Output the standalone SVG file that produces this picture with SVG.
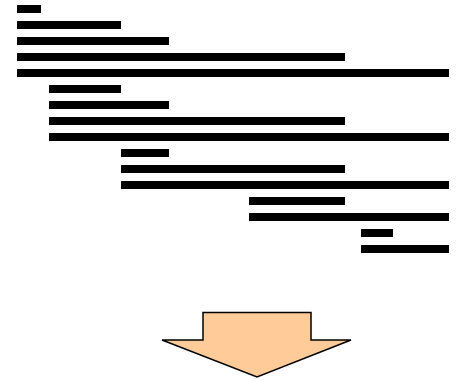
<svg xmlns="http://www.w3.org/2000/svg" width="462" height="381" viewBox="0 0 462 381">
  <style>
    .bar { fill: #000; }
    .arrow { fill: #FFCC99; stroke: #000; stroke-width: 1.5; stroke-linejoin: miter; }
  </style>
  <rect width="462" height="381" fill="#fff"/>
  <g id="bars">
    <rect class="bar" x="17" y="5" width="24" height="8"/>
    <rect class="bar" x="17" y="21" width="104" height="8"/>
    <rect class="bar" x="17" y="37" width="152" height="8"/>
    <rect class="bar" x="17" y="53" width="328" height="8"/>
    <rect class="bar" x="17" y="69" width="432" height="8"/>
    <rect class="bar" x="49" y="85" width="72" height="8"/>
    <rect class="bar" x="49" y="101" width="120" height="8"/>
    <rect class="bar" x="49" y="117" width="296" height="8"/>
    <rect class="bar" x="49" y="133" width="400" height="8"/>
    <rect class="bar" x="121" y="149" width="48" height="8"/>
    <rect class="bar" x="121" y="165" width="224" height="8"/>
    <rect class="bar" x="121" y="181" width="328" height="8"/>
    <rect class="bar" x="249" y="197" width="96" height="8"/>
    <rect class="bar" x="249" y="213" width="200" height="8"/>
    <rect class="bar" x="361" y="229" width="32" height="8"/>
    <rect class="bar" x="361" y="245" width="88" height="8"/>
  </g>
  <g id="down-arrow">
    <polygon class="arrow" points="203,312.5 311,312.5 311,340 351,340 257,377 162,340 203,340"/>
  </g>
</svg>
